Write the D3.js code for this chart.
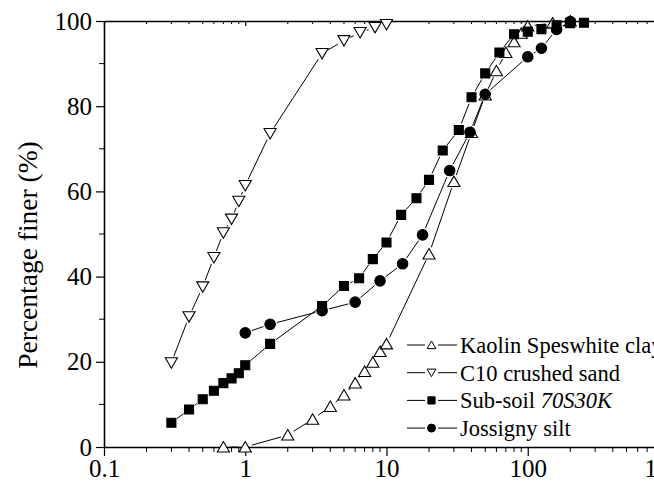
<!DOCTYPE html>
<html>
<head>
<meta charset="utf-8">
<script src="https://cdn.jsdelivr.net/npm/d3@7"></script>
<style>
  body { margin: 0; background: #fff; }
  text { font-family: "Liberation Serif", "Times New Roman", serif; fill: #000; }
</style>
</head>
<body>
<script>
// grain size on log axis vs percentage finer
var kaolinD = [0.7, 1, 2, 3, 4, 5, 6, 7, 8, 9, 10, 20, 30, 40, 50, 60, 70, 80, 90, 100, 150, 200];
var kaolinP = [0, 0, 2.8, 6.5, 9.5, 12.2, 15.0, 17.7, 19.9, 22.4, 24.2, 45.3, 62.3, 73.8, 82.6, 88.3, 92.6, 95.1, 97.1, 98.8, 99.5, 100];

var c10D = [0.3, 0.4, 0.5, 0.6, 0.7, 0.8, 0.9, 1, 1.5, 3.5, 5, 6.5, 8.3, 10];
var c10P = [19.8, 30.6, 37.6, 44.5, 50.3, 53.5, 57.7, 61.4, 73.6, 92.4, 95.4, 97.3, 98.5, 99.2];

var subD = [0.3, 0.4, 0.5, 0.6, 0.7, 0.8, 0.9, 1, 1.5, 3.5, 5, 6.4, 8, 10, 12.7, 16.3, 20, 25, 32.5, 40, 50, 63, 80, 100, 125, 160, 200, 250];
var subP = [5.7, 8.8, 11.2, 13.2, 15.0, 16.1, 17.3, 19.2, 24.2, 33.1, 37.8, 39.6, 44.1, 48.0, 54.5, 58.4, 62.7, 69.6, 74.4, 82.1, 87.7, 92.6, 96.9, 97.5, 98.1, 99, 99.5, 99.6];

var jossD = [1, 1.5, 3.5, 6, 9, 13, 18, 28, 39, 50, 100, 125, 160, 200];
var jossP = [26.8, 28.8, 32.0, 34.0, 39.0, 43.0, 49.8, 64.9, 73.9, 82.8, 91.6, 93.6, 98.0, 99.9];

var xTicks = [0.1, 1, 10, 100, 1000];
var xTickLabels = ["0.1", "1", "10", "100", "1000"];
var yTicks = [0, 20, 40, 60, 80, 100];

var width = 654, height = 484;
var mLeft = 104, mTop = 21, mBottom = 447, mRight = 669;

var svg = d3.select("body").append("svg")
  .attr("width", width).attr("height", height);

var x = d3.scaleLog().domain([0.1, 1000]).range([mLeft, mRight]);
var y = d3.scaleLinear().domain([0, 100]).range([mBottom, mTop]);

// minor ticks for the log axis
var xMinor = [];
[0.1, 1, 10, 100].forEach(function(b){
  for (var k = 2; k <= 9; k++) xMinor.push(b * k);
});
var yMinor = [10, 30, 50, 70, 90];

// axes
var gx = svg.append("g").attr("transform", "translate(0," + mBottom + ")")
  .call(d3.axisBottom(x).tickValues(xTicks).tickFormat(function(d, i){ return xTickLabels[i]; })
    .tickSizeInner(9).tickSizeOuter(0).tickPadding(3));
gx.selectAll("text").style("font-size", "25px");
gx.append("g").selectAll("line").data(xMinor).enter().append("line")
  .attr("x1", function(d){ return x(d); }).attr("x2", function(d){ return x(d); })
  .attr("y1", 0).attr("y2", 5).attr("stroke", "#000");

var gy = svg.append("g").attr("transform", "translate(" + mLeft + ",0)")
  .call(d3.axisLeft(y).tickValues(yTicks).tickSizeInner(8).tickSizeOuter(0).tickPadding(4));
gy.selectAll("text").style("font-size", "25px");
gy.append("g").selectAll("line").data(yMinor).enter().append("line")
  .attr("y1", function(d){ return y(d); }).attr("y2", function(d){ return y(d); })
  .attr("x1", 0).attr("x2", -5).attr("stroke", "#000");

var gt = svg.append("g").attr("transform", "translate(0," + mTop + ")")
  .call(d3.axisTop(x).tickValues(xTicks).tickFormat("").tickSizeInner(-5).tickSizeOuter(0));
gt.append("g").selectAll("line").data(xMinor).enter().append("line")
  .attr("x1", function(d){ return x(d); }).attr("x2", function(d){ return x(d); })
  .attr("y1", 0).attr("y2", 3).attr("stroke", "#000");

svg.selectAll(".domain").attr("stroke-width", 1.6);
svg.selectAll(".tick line").attr("stroke-width", 1.2);

svg.append("text")
  .attr("transform", "translate(37,255) rotate(-90)")
  .attr("text-anchor", "middle")
  .style("font-size", "27.5px")
  .text("Percentage finer (%)");

// marker shapes
function markerPath(type, s){
  if (type === "up") return "M0," + (-s*0.5) + "L" + (s*0.55) + "," + (s*0.45) + "L" + (-s*0.55) + "," + (s*0.45) + "Z";
  if (type === "down") return "M0," + (s*0.5) + "L" + (s*0.55) + "," + (-s*0.45) + "L" + (-s*0.55) + "," + (-s*0.45) + "Z";
  if (type === "square") return "M" + (-s*0.45) + "," + (-s*0.45) + "h" + (s*0.9) + "v" + (s*0.9) + "h" + (-s*0.9) + "Z";
  var r = s * 0.5;
  return "M" + r + ",0A" + r + "," + r + " 0 1,1 " + (-r) + ",0A" + r + "," + r + " 0 1,1 " + r + ",0Z";
}

var series = [
  {name: "Kaolin Speswhite clay", d: kaolinD, p: kaolinP, type: "up", fill: "#fff", size: 11},
  {name: "C10 crushed sand", d: c10D, p: c10P, type: "down", fill: "#fff", size: 11},
  {name: "Sub-soil", italic: "70S30K", d: subD, p: subP, type: "square", fill: "#000", size: 10},
  {name: "Jossigny silt", d: jossD, p: jossP, type: "circle", fill: "#000", size: 10.5}
];

var gap = 7;
series.forEach(function(s){
  var pts = s.d.map(function(d, i){ return [x(d), y(s.p[i])]; });
  var g = svg.append("g");
  for (var i = 0; i < pts.length - 1; i++) {
    var a = pts[i], b = pts[i+1];
    var dx = b[0] - a[0], dy = b[1] - a[1], L = Math.sqrt(dx*dx + dy*dy);
    if (L <= 2 * gap) continue;
    var ux = dx / L, uy = dy / L;
    g.append("line")
      .attr("x1", a[0] + ux*gap).attr("y1", a[1] + uy*gap)
      .attr("x2", b[0] - ux*gap).attr("y2", b[1] - uy*gap)
      .attr("stroke", "#000").attr("stroke-width", 1);
  }
  g.selectAll("path").data(pts).enter().append("path")
    .attr("transform", function(d){ return "translate(" + d[0] + "," + d[1] + ")"; })
    .attr("d", markerPath(s.type, s.size))
    .attr("fill", s.fill).attr("stroke", "#000").attr("stroke-width", 1.1);
});

// legend
var lg = svg.append("g");
series.forEach(function(s, i){
  var ly = 345 + i * 27.7;
  lg.append("line").attr("x1", 407).attr("x2", 425).attr("y1", ly).attr("y2", ly).attr("stroke", "#000");
  lg.append("line").attr("x1", 438).attr("x2", 457).attr("y1", ly).attr("y2", ly).attr("stroke", "#000");
  lg.append("path").attr("transform", "translate(431.5," + ly + ")")
    .attr("d", markerPath(s.type, 8))
    .attr("fill", s.fill).attr("stroke", "#000").attr("stroke-width", 1);
  var t = lg.append("text").attr("x", 460).attr("y", ly).attr("dy", "0.35em")
    .style("font-size", "22.5px");
  t.append("tspan").text(s.name);
  if (s.italic) t.append("tspan").style("font-style", "italic").text(" " + s.italic);
});
</script>
</body>
</html>
